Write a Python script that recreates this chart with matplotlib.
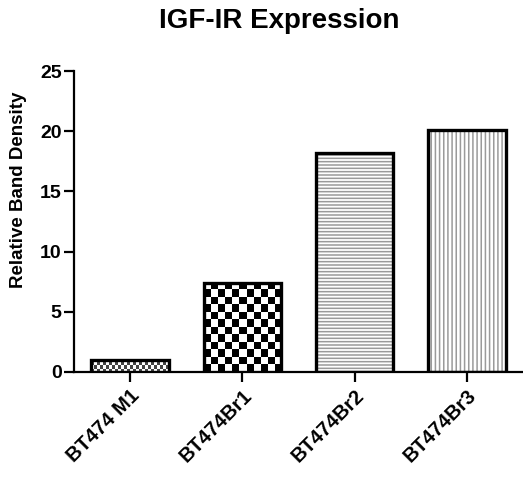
import numpy as np
import matplotlib
matplotlib.use('Agg')
import matplotlib.pyplot as plt

# values
cellLines = ['BT474 M1', 'BT474Br1', 'BT474Br2', 'BT474Br3']
bandDensity = [1.0, 7.4, 18.2, 20.1]
yTicks = [0, 5, 10, 15, 20, 25]

plt.rcParams['font.family'] = ['Liberation Sans', 'DejaVu Sans']
plt.rcParams['font.weight'] = 'bold'
plt.rcParams['hatch.linewidth'] = 1.1

fig = plt.figure(figsize=(5.23, 4.80), dpi=100)
ax = fig.add_axes([0.1415, 0.225, 0.8585, 0.627])
ax.set_xlim(-0.5, 3.5)
ax.set_ylim(0, 25)

x = np.arange(len(cellLines))
barWidth = 0.69

# fill layer (textures), then a plain black outline on top
fills = ax.bar(x, bandDensity, width=barWidth, color='none',
               edgecolor='#9a9a9a', linewidth=0, zorder=2)
outline = ax.bar(x, bandDensity, width=barWidth, color='none',
                 edgecolor='black', linewidth=2.4, zorder=4)


def checker(bar, cellPx, dark='black', light='white'):
    # fill a bar with a checkerboard texture clipped to the bar
    x0, y0 = bar.get_x(), bar.get_y()
    w, h = bar.get_width(), bar.get_height()
    p0 = ax.transData.transform((x0, y0))
    p1 = ax.transData.transform((x0 + w, y0 + h))
    nx = max(1, int(round((p1[0] - p0[0]) / cellPx)))
    ny = max(1, int(round((p1[1] - p0[1]) / cellPx)))
    grid = (np.add.outer(np.arange(ny), np.arange(nx)) % 2).astype(float)
    cmap = matplotlib.colors.ListedColormap([light, dark])
    im = ax.imshow(grid, extent=(x0, x0 + w, y0, y0 + h), cmap=cmap,
                   interpolation='nearest', aspect='auto', zorder=3)
    im.set_clip_path(bar)


checker(fills[0], 3.0, dark='#444444')
checker(fills[1], 7.2)
ax.set_aspect('auto')
ax.set_xlim(-0.5, 3.5)
ax.set_ylim(0, 25)

fills[2].set_hatch('-----')
fills[3].set_hatch('||||')

for side in ['top', 'right']:
    ax.spines[side].set_visible(False)
for side in ['left', 'bottom']:
    ax.spines[side].set_linewidth(1.6)

ax.set_yticks(yTicks)
ax.set_xticks(x)
ax.set_xticklabels(cellLines, rotation=45, ha='right', rotation_mode='anchor')
ax.tick_params(axis='both', width=1.6, length=7, labelsize=14)
ax.tick_params(axis='y', pad=2)
ax.tick_params(axis='x', labelsize=14.5, pad=3)
for lbl in ax.get_yticklabels() + ax.get_xticklabels():
    lbl.set_fontweight('bold')

ax.set_ylabel('Relative Band Density', fontsize=13.5, fontweight='bold')
ax.yaxis.set_label_coords(-0.105, 0.605)
fig.text(0.533, 0.942, 'IGF-IR Expression', fontsize=20, fontweight='bold',
         ha='center', va='baseline')

fig.savefig('out.png', dpi=100)
